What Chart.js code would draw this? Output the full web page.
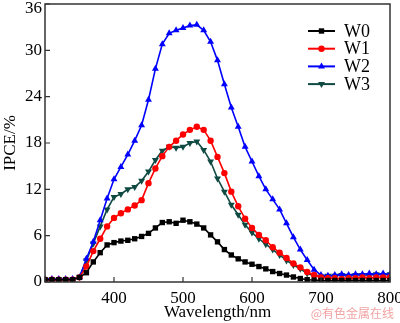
<!DOCTYPE html>
<html>
<head>
<meta charset="utf-8">
<script src="https://cdn.jsdelivr.net/npm/chart.js@4.4.1/dist/chart.umd.min.js"></script>
<style>
  html, body { margin: 0; padding: 0; background: #fff; }
  #wrap { width: 400px; height: 323px; }
</style>
</head>
<body>
<div id="wrap"><canvas id="ipce" width="400" height="323"></canvas></div>
<script>
// wavelength grid, 300 – 800 nm every 10 nm
const wavelengths = [];
for (let w = 300; w <= 800; w += 10) wavelengths.push(w);

const w0 = [0.3, 0.3, 0.3, 0.3, 0.3, 0.6, 1.2, 2.6, 3.8, 4.8,
  5.1, 5.3, 5.4, 5.6, 5.9, 6.3, 7.0, 7.7, 7.8, 7.6,
  8.0, 7.8, 7.5, 7.0, 6.1, 5.2, 4.2, 3.5, 3.0, 2.6,
  2.3, 2.0, 1.7, 1.35, 1.1, 0.9, 0.65, 0.45, 0.3, 0.25,
  0.2, 0.2, 0.2, 0.2, 0.2, 0.2, 0.2, 0.2, 0.2, 0.2, 0.2];

const w1 = [0.3, 0.3, 0.3, 0.3, 0.3, 0.6, 2.0, 4.0, 5.6, 7.2,
  8.3, 8.9, 9.4, 9.9, 10.6, 12.8, 14.7, 16.3, 17.5, 18.3,
  19.1, 19.7, 20.1, 19.7, 18.3, 16.2, 14.1, 11.7, 9.8, 8.2,
  7.0, 6.1, 5.4, 4.5, 3.8, 3.1, 2.4, 1.9, 1.3, 0.9,
  0.6, 0.5, 0.5, 0.4, 0.5, 0.5, 0.6, 0.5, 0.6, 0.6, 0.6];

const w2 = [0.4, 0.4, 0.4, 0.4, 0.4, 0.6, 3.0, 5.2, 8.0, 10.8,
  13.3, 14.9, 16.5, 18.3, 20.3, 23.6, 27.6, 30.8, 32.2, 32.6,
  32.9, 33.2, 33.3, 32.6, 31.1, 28.7, 25.6, 22.6, 20.1, 17.5,
  15.6, 13.7, 12.0, 10.7, 9.4, 7.6, 5.8, 4.2, 2.85, 1.6,
  0.9, 0.8, 0.9, 1.0, 0.9, 1.0, 1.0, 1.1, 1.0, 1.1, 1.0];

const w3 = [0.3, 0.3, 0.3, 0.3, 0.3, 0.6, 2.8, 5.0, 7.2, 9.4,
  11.0, 11.4, 12.0, 12.3, 13.1, 14.3, 15.8, 17.0, 17.5, 17.4,
  17.5, 18.0, 18.2, 17.1, 15.6, 13.4, 11.7, 10.0, 8.7, 7.4,
  6.4, 5.6, 4.9, 4.2, 3.5, 2.8, 2.2, 1.7, 1.1, 0.8,
  0.7, 0.8, 0.8, 0.9, 0.8, 0.9, 0.9, 0.9, 1.0, 0.9, 1.0];

const seriesNames = ['W0', 'W1', 'W2', 'W3'];
const xTicks = [300, 400, 500, 600, 700, 800];
const yTicks = [0, 6, 12, 18, 24, 30, 36];

const serif = 'Liberation Serif, Times New Roman, serif';
const yMax = yTicks[yTicks.length - 1];

function pts(arr) {
  return arr.map((v, i) => ({ x: wavelengths[i], y: v }));
}

function series(label, arr, color, style, radius, rot) {
  return {
    label: label,
    data: pts(arr),
    borderColor: color,
    backgroundColor: color,
    borderWidth: 1.6,
    pointStyle: style,
    pointRadius: radius,
    pointRotation: rot || 0,
    pointBorderWidth: 0,
    tension: 0
  };
}

// frame, inward ticks, top y label, legend and the watermark
const decor = {
  id: 'decor',
  afterDraw(chart) {
    const ctx = chart.ctx;
    const a = chart.chartArea;
    const xs = chart.scales.x, ys = chart.scales.y;
    ctx.save();
    ctx.strokeStyle = '#333';
    ctx.lineWidth = 1.5;
    ctx.strokeRect(a.left, a.top, a.right - a.left, a.bottom - a.top);

    ctx.lineWidth = 1.2;
    ctx.beginPath();
    xs.ticks.forEach(t => {
      const px = xs.getPixelForValue(t.value);
      ctx.moveTo(px, a.bottom);
      ctx.lineTo(px, a.bottom - 5);
    });
    ys.ticks.forEach(t => {
      const py = ys.getPixelForValue(t.value);
      ctx.moveTo(a.left, py);
      ctx.lineTo(a.left + 5, py);
    });
    ctx.stroke();

    // the top label sits a little below its tick so it is not cut off
    ctx.fillStyle = '#000';
    ctx.font = '17px ' + serif;
    ctx.textAlign = 'right';
    ctx.textBaseline = 'middle';
    ctx.fillText(String(yMax), a.left - 3, ys.getPixelForValue(yMax) + 5);

    // legend: short line with the marker in the middle
    const lx0 = 308, lx1 = 335, ly0 = 31, step = 17.7;
    chart.data.datasets.forEach((ds, i) => {
      const y = ly0 + i * step;
      ctx.strokeStyle = ds.borderColor;
      ctx.lineWidth = 2;
      ctx.beginPath();
      ctx.moveTo(lx0, y);
      ctx.lineTo(lx1, y);
      ctx.stroke();
      ctx.fillStyle = ds.backgroundColor;
      Chart.helpers.drawPoint(ctx, {
        pointStyle: ds.pointStyle,
        rotation: ds.pointRotation,
        radius: ds.pointRadius,
        borderWidth: 0
      }, (lx0 + lx1) / 2, y);
      ctx.fillStyle = '#000';
      ctx.font = '18px ' + serif;
      ctx.textBaseline = 'middle';
      ctx.textAlign = 'left';
      ctx.fillText(ds.label, 344, y + 1);
    });

    ctx.fillStyle = '#f2a3a3';
    ctx.font = '12px "Noto Sans CJK SC", sans-serif';
    ctx.textAlign = 'right';
    ctx.textBaseline = 'middle';
    ctx.fillText('@有色金属在线', 394, 313);
    ctx.restore();
  }
};

new Chart(document.getElementById('ipce'), {
  type: 'line',
  data: {
    datasets: [
      series(seriesNames[0], w0, '#000000', 'rect', 3.8),
      series(seriesNames[1], w1, '#ff0000', 'circle', 3.2),
      series(seriesNames[2], w2, '#0000ff', 'triangle', 4),
      series(seriesNames[3], w3, '#0f4a42', 'triangle', 4, 180)
    ]
  },
  options: {
    responsive: false,
    animation: false,
    layout: { padding: { top: 4, right: 10, left: 0, bottom: 0 } },
    plugins: {
      legend: { display: false },
      tooltip: { enabled: false }
    },
    scales: {
      x: {
        type: 'linear',
        min: 300,
        max: 800,
        afterBuildTicks(s) { s.ticks = xTicks.map(v => ({ value: v })); },
        afterFit(s) { s.height = 41; s.paddingLeft = 0; s.paddingRight = 0; },
        grid: { display: false, drawTicks: false },
        border: { display: false },
        ticks: {
          color: '#000',
          padding: 6,
          font: { family: serif, size: 17 },
          callback: v => (v === 300 ? '' : v)
        },
        title: {
          display: true,
          text: 'Wavelength/nm',
          color: '#000',
          font: { family: serif, size: 17 },
          padding: { top: 0, bottom: 0 }
        }
      },
      y: {
        min: 0,
        max: yMax,
        afterBuildTicks(s) { s.ticks = yTicks.map(v => ({ value: v })); },
        afterFit(s) { s.width = 45; s.paddingTop = 0; s.paddingBottom = 0; },
        grid: { display: false, drawTicks: false },
        border: { display: false },
        ticks: {
          color: '#000',
          padding: 3,
          font: { family: serif, size: 17 },
          callback: v => (v === yMax ? '' : v)
        },
        title: {
          display: true,
          text: 'IPCE/%',
          color: '#000',
          font: { family: serif, size: 17 },
          padding: 0
        }
      }
    }
  },
  plugins: [decor]
});
</script>
</body>
</html>
